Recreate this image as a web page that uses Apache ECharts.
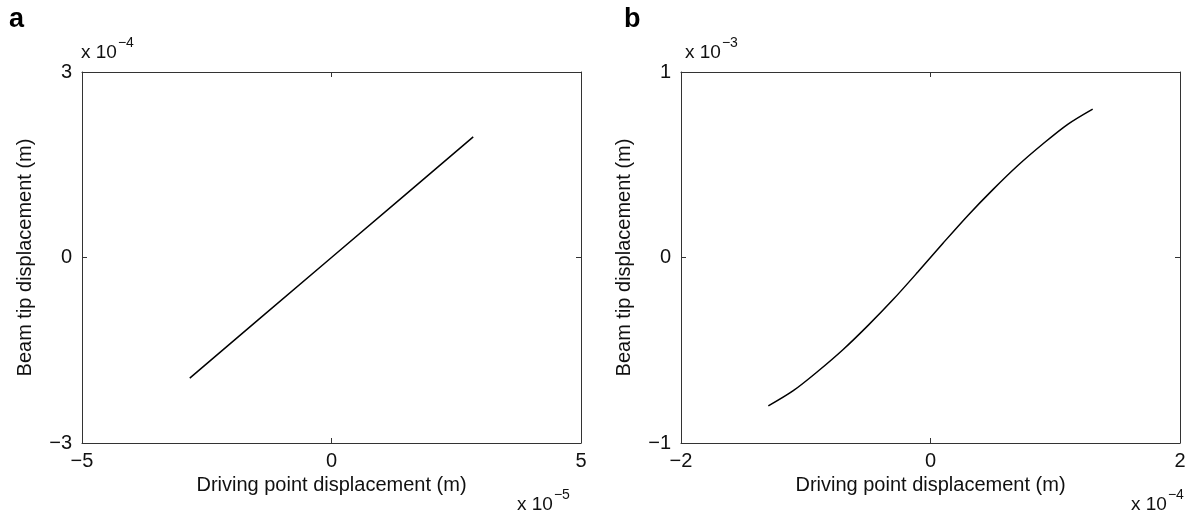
<!DOCTYPE html>
<html><head><meta charset="utf-8">
<script src="https://cdn.jsdelivr.net/npm/echarts@6/dist/echarts.min.js"></script>
<style>html,body{margin:0;padding:0;background:#fff}#c{width:1200px;height:513px}</style>
</head><body><div id="c"></div>
<script>
// Panel a (x in 1e-5 m, y in 1e-4 m)
const aX = [-2.84, -1.5, 0, 1.5, 2.84];
const aY = [-1.95, -1.03, 0, 1.03, 1.95];
// Panel b (x in 1e-4 m, y in 1e-3 m)
const bX = [-1.30, -1.10, -0.90, -0.70, -0.50, -0.30, -0.10, 0.10, 0.30, 0.50, 0.70, 0.90, 1.10, 1.30];
const bY = [-0.800, -0.718, -0.612, -0.496, -0.366, -0.227, -0.077, 0.077, 0.227, 0.366, 0.496, 0.612, 0.718, 0.800];
const xName = 'Driving point displacement (m)';
const yName = 'Beam tip displacement (m)';
const aRange = {x: [-5, 5, 5], y: [-3, 3, 3]};
const bRange = {x: [-2, 2, 2], y: [-1, 1, 1]};

const font = 'Liberation Sans, Arial, Helvetica, sans-serif';
const axisCol = '#333';
const FS = 20;
const fmt = v => (v < 0 ? '\u2212' + Math.abs(v) : String(v));
function xAxes(gi, r) {
  const base = {gridIndex: gi, type: 'value', min: r[0], max: r[1], interval: r[2],
    axisLine: {show: true, onZero: false, lineStyle: {color: axisCol, width: 1}},
    axisTick: {show: true, inside: true, length: 5, lineStyle: {color: axisCol}},
    splitLine: {show: false}};
  return [
    Object.assign({}, base, {position: 'bottom', name: xName, nameLocation: 'middle', nameGap: 31,
      nameTextStyle: {fontFamily: font, fontSize: FS, color: '#111'},
      axisLabel: {fontFamily: font, fontSize: FS, color: '#111', margin: 8, formatter: fmt}}),
    Object.assign({}, base, {position: 'top', axisLabel: {show: false}})
  ];
}
function yAxes(gi, r) {
  const base = {gridIndex: gi, type: 'value', min: r[0], max: r[1], interval: r[2],
    axisLine: {show: true, onZero: false, lineStyle: {color: axisCol, width: 1}},
    axisTick: {show: true, inside: true, length: 5, lineStyle: {color: axisCol}},
    splitLine: {show: false}};
  return [
    Object.assign({}, base, {position: 'left', name: yName, nameLocation: 'middle', nameGap: 47,
      nameTextStyle: {fontFamily: font, fontSize: FS, color: '#111'},
      axisLabel: {fontFamily: font, fontSize: FS, color: '#111', margin: 10, formatter: fmt}}),
    Object.assign({}, base, {position: 'right', axisLabel: {show: false}})
  ];
}
function mult(left, top, exp) {
  return {type: 'text', left: left, top: top, style: {
    text: '{b|x 10}{s|' + exp + '}', fill: '#111',
    rich: {b: {fontFamily: font, fontSize: 19, fill: '#111', verticalAlign: 'bottom'},
           s: {fontFamily: font, fontSize: 14, fill: '#111', verticalAlign: 'top', padding: [0, 0, 12, 1]}}}};
}
const chart = echarts.init(document.getElementById('c'), null, {renderer: 'canvas'});
chart.setOption({
  animation: false,
  grid: [
    {left: 82, right: 619, top: 72, bottom: 70, containLabel: false},
    {left: 681, right: 20, top: 72, bottom: 70, containLabel: false}
  ],
  xAxis: xAxes(0, aRange.x).concat(xAxes(1, bRange.x)),
  yAxis: yAxes(0, aRange.y).concat(yAxes(1, bRange.y)),
  series: [
    {type: 'line', xAxisIndex: 0, yAxisIndex: 0, data: aX.map((x, i) => [x, aY[i]]),
     showSymbol: false, lineStyle: {color: '#000', width: 1.5}},
    {type: 'line', xAxisIndex: 2, yAxisIndex: 2, data: bX.map((x, i) => [x, bY[i]]),
     smooth: 0.3, showSymbol: false, lineStyle: {color: '#000', width: 1.5}}
  ],
  graphic: [
    {type: 'text', left: 9, top: 6, style: {text: 'a', fontFamily: font, fontSize: 27, fontWeight: 'bold', fill: '#000'}},
    {type: 'text', left: 624, top: 6, style: {text: 'b', fontFamily: font, fontSize: 27, fontWeight: 'bold', fill: '#000'}},
    mult(81, 36, '\u22124'),
    mult(685, 36, '\u22123'),
    mult(517, 488, '\u22125'),
    mult(1131, 488, '\u22124')
  ]
});
</script></body></html>
